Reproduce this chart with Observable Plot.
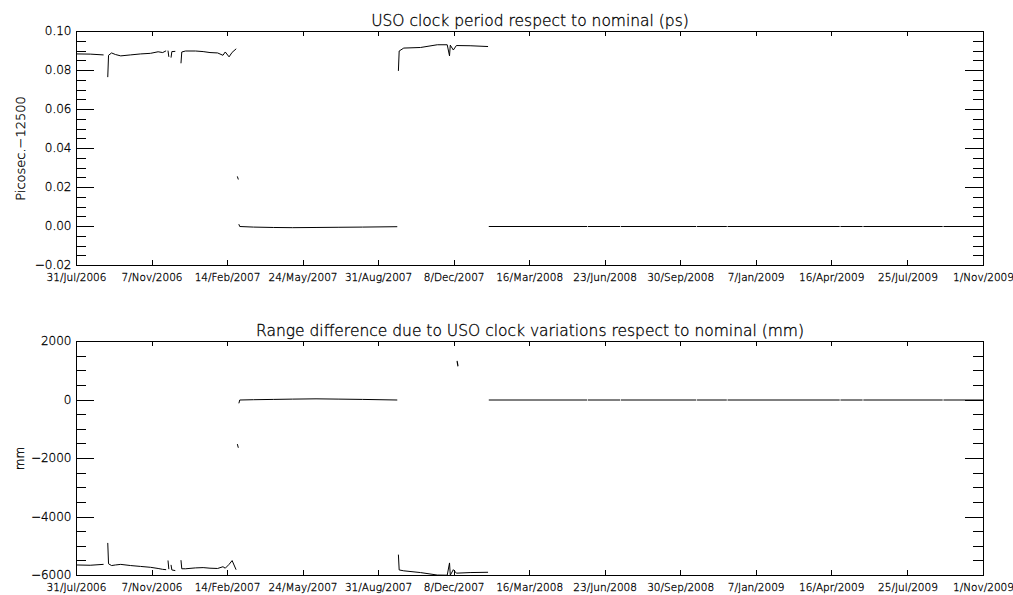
<!DOCTYPE html>
<html><head><meta charset="utf-8">
<script src="https://cdn.jsdelivr.net/npm/d3@7"></script>
<script src="https://cdn.jsdelivr.net/npm/@observablehq/plot@0.6"></script>
<style>
html,body{margin:0;padding:0;background:#fff;}
#chart{width:1013px;height:595px;overflow:hidden;}
#chart svg{display:block;}
</style></head><body><div id="chart"></div>
<script>
// ---- data ----
const dates = [
"2006-07-31","2006-08-18","2006-09-04","2006-09-07","2006-09-10","2006-09-11","2006-09-15","2006-09-20","2006-09-27","2006-10-10",
"2006-10-23","2006-11-05","2006-11-15","2006-11-21","2006-11-25","2006-11-26","2006-11-28","2006-11-29","2006-11-30","2006-12-02",
"2006-12-03","2006-12-07","2006-12-10","2006-12-15","2006-12-16","2006-12-21","2007-01-03","2007-01-13","2007-01-22","2007-02-01",
"2007-02-08","2007-02-11","2007-02-16","2007-02-20","2007-02-25","2007-02-26","2007-02-27","2007-02-28","2007-02-28","2007-03-01",
"2007-03-02","2007-03-20","2007-04-15","2007-05-10","2007-06-10","2007-07-10","2007-08-10","2007-09-24","2007-09-25","2007-09-26",
"2007-09-27","2007-10-03","2007-10-25","2007-11-16","2007-11-29","2007-12-02","2007-12-03","2007-12-07","2007-12-11","2007-12-29",
"2008-01-21","2008-01-22","2008-01-23","2008-05-30","2008-05-31","2008-06-01","2008-07-12","2008-07-13","2008-07-14","2008-10-20",
"2008-10-21","2008-10-22","2008-11-29","2008-11-30","2008-12-01","2009-04-26","2009-04-27","2009-04-28","2009-05-26","2009-05-27",
"2009-05-28","2009-09-08","2009-09-09","2009-09-10","2009-11-01"];
const clockPs = [
0.0885,0.0884,0.0880,null,0.0768,0.0878,0.0890,0.0882,0.0875,0.0880,
0.0885,0.0888,0.0896,0.0892,0.0900,null,0.0900,0.0872,null,0.0868,
0.0897,0.0898,null,0.0839,0.0895,0.0900,0.0900,0.0897,0.0892,0.0890,
0.0878,0.0895,0.0870,0.0893,0.0910,null,0.0255,0.0243,null,0.0010,
0.0000,-0.0003,-0.0005,-0.0006,-0.0005,-0.0004,-0.0003,-0.0001,null,0.0800,
0.0900,0.0915,0.0918,0.0932,0.0932,0.0875,0.0930,0.0905,0.0928,0.0927,
0.0923,null,0,0,null,0,0,null,0,0,
null,0,0,null,0,0,null,0,0,null,
0,0,null,0,0];
const rangeMm = [
-5640,-5650,-5620,null,-4900,-5600,-5660,-5640,-5620,-5660,
-5690,-5720,-5760,-5790,-5800,null,-5500,-5770,null,-5650,
-5810,-5830,null,-5490,-5770,-5770,-5740,-5730,-5750,-5760,
-5700,-5750,-5620,-5490,-5790,null,-1520,-1620,null,-100,
0,10,20,30,40,30,20,0,null,-5300,
-5810,-5840,-5900,-5985,-5990,-5570,-5990,-5800,-5920,-5900,
-5890,null,0,0,null,0,0,null,0,0,
null,0,0,null,0,0,null,0,0,null,
0,0,null,0,0];
const spikeDates = ["2007-12-12","2007-12-13"];
const spikeMm = [1320, 1170];

const xTickDates = ["2006-07-31","2006-11-07","2007-02-14","2007-05-24","2007-08-31","2007-12-08",
"2008-03-16","2008-06-23","2008-09-30","2009-01-07","2009-04-16","2009-07-25","2009-11-01"];
const xTickLabels = ["31/Jul/2006","7/Nov/2006","14/Feb/2007","24/May/2007","31/Aug/2007","8/Dec/2007",
"16/Mar/2008","23/Jun/2008","30/Sep/2008","7/Jan/2009","16/Apr/2009","25/Jul/2009","1/Nov/2009"];
const psTicks = [0.10,0.08,0.06,0.04,0.02,0.00,-0.02];
const psTickLabels = ["0.10","0.08","0.06","0.04","0.02","0.00","\u22120.02"];
const mmTicks = [2000,0,-2000,-4000,-6000];
const mmTickLabels = ["2000","0","\u22122000","\u22124000","\u22126000"];
const titles = ["USO clock period respect to nominal (ps)",
"Range difference due to USO clock variations respect to nominal (mm)"];
const yLabels = ["Picosec.\u221212500","mm"];

// ---- drawing ----
const W = 1013, ML = 76, MR = 30, FW = W - ML - MR;
const xDomain = [new Date("2006-07-31"), new Date("2009-11-01")];
const xTicks = xTickDates.map(d => new Date(d));
const txt = {fill: "#000", stroke: "#000", strokeWidth: 0.3, paintOrder: "fill"};

function panel(o) {
  const FH = o.height - o.marginTop - o.marginBottom;
  const rows = dates.map((d, i) => ({date: new Date(d), v: o.values[i]}));
  const minor = d3.range(o.yDomain[0], o.yDomain[1] + o.minorStep / 2, o.minorStep);
  const marks = [
    Plot.ruleY(minor, {insetRight: FW - 10, stroke: "#000", shapeRendering: "crispEdges"}),
    Plot.ruleY(minor, {insetLeft: FW - 10, stroke: "#000", shapeRendering: "crispEdges"}),
    Plot.ruleY(o.yTicks, {insetRight: FW - 18, stroke: "#000", shapeRendering: "crispEdges"}),
    Plot.ruleY(o.yTicks, {insetLeft: FW - 18, stroke: "#000", shapeRendering: "crispEdges"}),
    Plot.ruleX(xTicks, {insetBottom: FH - 5, stroke: "#000", shapeRendering: "crispEdges"}),
    Plot.ruleX(xTicks, {insetTop: FH - 5, stroke: "#000", shapeRendering: "crispEdges"}),
    Plot.frame({stroke: "#000", shapeRendering: "crispEdges"}),
    Plot.text(xTicks, {x: d => d, frameAnchor: "bottom", lineAnchor: "top", dy: 8,
      text: (d, i) => xTickLabels[i], fontSize: 10.5, ...txt}),
    Plot.text(o.yTicks, {y: d => d, frameAnchor: "left", textAnchor: "end", dx: -5,
      text: (d, i) => o.yTickLabels[i], fontSize: 12, ...txt}),
    Plot.text([o.title], {frameAnchor: "top", lineAnchor: "bottom", dy: -6, fontSize: 15.5, ...txt}),
    Plot.text([o.ylabel], {frameAnchor: "left", textAnchor: "middle", rotate: -90, dx: -56,
      fontSize: o.ylabelSize, ...txt}),
    Plot.line(rows, {x: "date", y: "v", stroke: "#000", strokeWidth: 1})
  ];
  if (o.extra) marks.push(Plot.line(o.extra, {x: "date", y: "v", stroke: "#000", strokeWidth: 1.2}));
  return Plot.plot({
    width: W, height: o.height,
    marginLeft: ML, marginRight: MR, marginTop: o.marginTop, marginBottom: o.marginBottom,
    style: {fontFamily: "'DejaVu Sans', sans-serif", fontSize: "11px", fontWeight: 200, color: "#000", background: "#fff", overflow: "visible"},
    x: {type: "utc", domain: xDomain, axis: null},
    y: {domain: o.yDomain, axis: null},
    marks
  });
}

const topPanel = panel({
  values: clockPs, yDomain: [-0.02, 0.10], minorStep: 0.005,
  yTicks: psTicks, yTickLabels: psTickLabels, title: titles[0], ylabel: yLabels[0], ylabelSize: 13,
  height: 300, marginTop: 31, marginBottom: 35
});
const bottomPanel = panel({
  values: rangeMm, yDomain: [-6000, 2000], minorStep: 500,
  yTicks: mmTicks, yTickLabels: mmTickLabels, title: titles[1], ylabel: yLabels[1], ylabelSize: 12,
  height: 295, marginTop: 41, marginBottom: 20,
  extra: spikeDates.map((d, i) => ({date: new Date(d), v: spikeMm[i]}))
});
const chart = document.getElementById("chart");
chart.appendChild(topPanel);
chart.appendChild(bottomPanel);
</script></body></html>
